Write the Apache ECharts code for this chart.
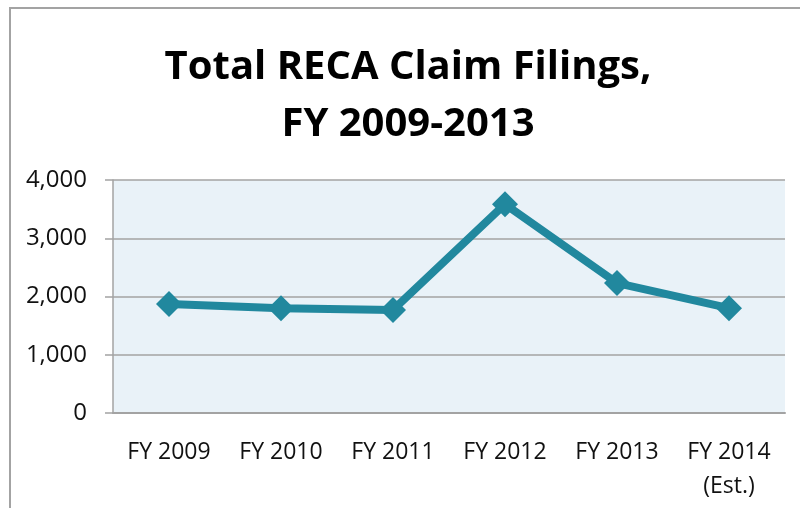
<!DOCTYPE html>
<html>
<head>
<meta charset="utf-8">
<script src="https://cdn.jsdelivr.net/npm/echarts@6/dist/echarts.min.js"></script>
<style>
  html, body { margin: 0; padding: 0; background: #fff; }
  #chart { width: 800px; height: 508px; }
</style>
</head>
<body>
<div id="chart"></div>
<script>
'use strict';

// fiscal years on the x axis
const years = ['FY 2009', 'FY 2010', 'FY 2011', 'FY 2012', 'FY 2013', 'FY 2014\n(Est.)'];
// total claim filings
const filings = [1870, 1800, 1770, 3585, 2230, 1800];

const gray = '#a3a3a3';
const font = '"Open Sans", "DejaVu Sans", sans-serif';

let chart = echarts.init(document.getElementById('chart'));

chart.setOption({
  animation: false,
  title: {
    text: 'Total RECA Claim Filings,\nFY 2009-2013',
    left: 408,
    top: 39,
    padding: 0,
    textAlign: 'center',
    textStyle: {
      fontFamily: font,
      fontWeight: 'bold',
      fontSize: 40,
      lineHeight: 57,
      color: '#000'
    }
  },
  // outer frame of the chart
  graphic: [{
    type: 'rect',
    shape: { x: 10, y: 8, width: 830, height: 540 },
    style: { fill: 'none', stroke: gray, lineWidth: 2 },
    silent: true
  }],
  grid: {
    left: 113,
    right: 15,
    top: 180,
    bottom: 95,
    show: true,
    backgroundColor: '#e9f2f8',
    borderWidth: 0
  },
  xAxis: {
    type: 'category',
    data: years,
    axisLine: { lineStyle: { color: gray, width: 2 } },
    axisTick: { length: 7, lineStyle: { color: gray, width: 1.5 } },
    axisLabel: {
      margin: 22,
      color: '#111',
      fontFamily: font,
      fontSize: 23,
      lineHeight: 34,
      interval: 0
    }
  },
  yAxis: {
    type: 'value',
    min: 0,
    max: 4000,
    interval: 1000,
    axisLine: { show: true, lineStyle: { color: gray, width: 1.5 } },
    axisTick: { show: true, length: 8, lineStyle: { color: gray, width: 1.5 } },
    splitLine: { lineStyle: { color: gray, width: 1.5 } },
    axisLabel: {
      margin: 26,
      color: '#111',
      fontFamily: font,
      fontSize: 24,
      formatter: function(v) { return v.toLocaleString('en-US'); }
    }
  },
  series: [{
    type: 'line',
    data: filings,
    symbol: 'diamond',
    symbolSize: 26,
    color: '#21889e',
    lineStyle: { width: 8, color: '#21889e' },
    itemStyle: { color: '#21889e' }
  }]
});
</script>
</body>
</html>
